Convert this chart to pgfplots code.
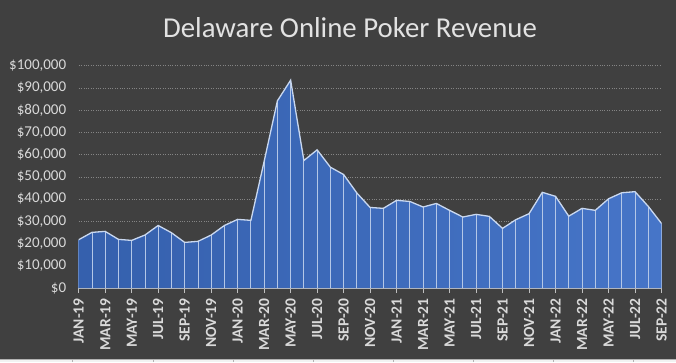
\documentclass[border=0pt]{standalone}
\usepackage{pgfplots}
\pgfplotsset{compat=1.18}
\usepackage{pgfplotstable}
\usepackage{fontspec}
\setmainfont{Carlito}
\definecolor{bg}{HTML}{404040}
\definecolor{titlec}{HTML}{E2E2E2}
\definecolor{labc}{HTML}{D9D9D9}
\definecolor{gridc}{HTML}{858585}
\definecolor{axisc}{HTML}{BFBFBF}
\definecolor{fillL}{HTML}{3560AD}
\definecolor{fillR}{HTML}{4675C8}
\definecolor{dropc}{HTML}{B4C7E7}
\definecolor{linec}{HTML}{C9D8F0}

\pgfplotstableread{
x y
0 21700
1 25000
2 25450
3 21860
4 21400
5 23800
6 28100
7 24850
8 20500
9 20960
10 23800
11 28100
12 30840
13 30400
14 56900
15 84100
16 93400
17 57300
18 62100
19 54300
20 51000
21 42700
22 36200
23 35800
24 39400
25 38900
26 36400
27 38000
28 34900
29 31900
30 33100
31 32200
32 26800
33 30700
34 33400
35 43000
36 41200
37 32300
38 35800
39 34900
40 40100
41 42800
42 43300
43 36700
44 29000
}\datatable

\begin{document}
\begin{tikzpicture}
\fill[bg] (0,0) rectangle (676pt,362pt);
\fill[white!95!black] (0,0) rectangle (676pt,3pt);
\draw[gray!60, line width=0.6pt] (0,3pt) -- (676pt,3pt);
\foreach \xx in {72,153,233,313,393,473,553,633} {
  \draw[gray!60, line width=0.6pt] (\xx pt,0) -- (\xx pt,3pt);
}
\node[text=titlec, font=\fontsize{28.8}{32}\selectfont] at (350pt,334pt) {Delaware Online Poker Revenue};
\begin{axis}[
  at={(78.7pt,74pt)}, anchor=south west,
  scale only axis, width=582.8pt, height=222.5pt,
  xmin=0, xmax=44, ymin=0, ymax=100000,
  axis x line*=bottom, axis y line*=left,
  y axis line style={draw=none},
  x axis line style={draw=axisc, line width=0.8pt},
  ytick={0,10000,...,100000},
  xtick={0,2,...,44},
  xticklabels={JAN-19,MAR-19,MAY-19,JUL-19,SEP-19,NOV-19,JAN-20,MAR-20,MAY-20,JUL-20,SEP-20,NOV-20,JAN-21,MAR-21,MAY-21,JUL-21,SEP-21,NOV-21,JAN-22,MAR-22,MAY-22,JUL-22,SEP-22},
  tick align=outside,
  major tick length=5pt,
  ytick style={draw=none},
  xtick style={draw=axisc, line width=0.8pt},
  scaled y ticks=false,
  /pgf/number format/assume math mode=true,
  /pgf/number format/fixed,
  /pgf/number format/1000 sep={,},
  yticklabel={\$\pgfmathprintnumber{\tick}},
  yticklabel style={text=labc, font=\fontsize{15}{17}\selectfont, xshift=-4pt},
  xticklabel style={text=labc, font=\bfseries\fontsize{15.5}{17}\selectfont, rotate=90, anchor=east, xshift=-2pt},
  ymajorgrids,
  grid style={dotted, gridc, line width=0.5pt},
  axis on top=false,
]
\addplot[draw=none, left color=fillL, right color=fillR] table[x=x,y=y]{\datatable} \closedcycle;
\addplot[ycomb, draw=dropc, line width=0.8pt] table[x=x,y=y]{\datatable};
\addplot[draw=linec, line width=1.3pt] table[x=x,y=y]{\datatable};
\end{axis}
\pgfresetboundingbox
\useasboundingbox (0,0) rectangle (676pt,362pt);
\end{tikzpicture}
\end{document}
